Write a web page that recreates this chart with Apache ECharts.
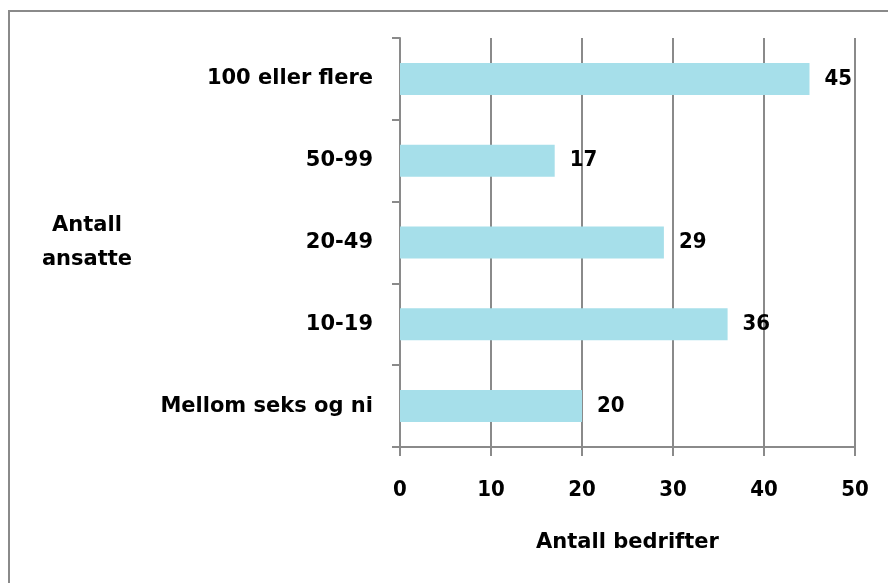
<!DOCTYPE html>
<html>
<head>
<meta charset="utf-8">
<script src="https://cdn.jsdelivr.net/npm/echarts@6/dist/echarts.min.js"></script>
<style>
  html, body { margin: 0; padding: 0; background: #fff; }
  #main { width: 888px; height: 583px; }
</style>
</head>
<body>
<div id="main"></div>
<script>
const categories = ['Mellom seks og ni', '10-19', '20-49', '50-99', '100 eller flere'];
const values = [20, 36, 29, 17, 45];
const xTicks = [0, 10, 20, 30, 40, 50];

const numFont = 'DejaVu Sans Condensed';
const textFont = 'DejaVu Sans';
const lineColor = '#8a8a8a';

var chart = echarts.init(document.getElementById('main'));
chart.setOption({
  animation: false,
  textStyle: { fontFamily: textFont },
  graphic: [
    {
      type: 'rect',
      shape: { x: 9, y: 11, width: 900, height: 600 },
      style: { fill: 'none', stroke: lineColor, lineWidth: 2 }
    }
  ],
  grid: { left: 400, right: 33, top: 38, bottom: 136 },
  xAxis: {
    type: 'value',
    min: xTicks[0],
    max: xTicks[xTicks.length - 1],
    interval: 10,
    name: 'Antall bedrifter',
    nameLocation: 'middle',
    nameGap: 85,
    nameTextStyle: { color: '#000', fontSize: 21, fontWeight: 'bold', fontFamily: textFont },
    axisLine: { show: true, lineStyle: { color: lineColor, width: 2 } },
    axisTick: { show: true, length: 9, lineStyle: { color: lineColor, width: 2 } },
    axisLabel: { color: '#000', fontSize: 22, fontWeight: 'bold', margin: 32, fontFamily: numFont },
    splitLine: { show: true, lineStyle: { color: lineColor, width: 2 } }
  },
  yAxis: {
    type: 'category',
    data: categories,
    name: 'Antall\nansatte',
    nameLocation: 'middle',
    nameRotate: 0,
    nameGap: 313,
    nameTextStyle: { color: '#000', fontSize: 21, fontWeight: 'bold', fontFamily: textFont, align: 'center', lineHeight: 34 },
    axisLine: { show: true, lineStyle: { color: lineColor, width: 2 } },
    axisTick: { show: true, length: 8, alignWithLabel: false, lineStyle: { color: lineColor, width: 2 } },
    axisLabel: { color: '#000', fontSize: 21, fontWeight: 'bold', margin: 27, fontFamily: textFont },
    splitLine: { show: false }
  },
  series: [
    {
      type: 'bar',
      data: values,
      barWidth: 32,
      itemStyle: { color: '#a6dfea' },
      label: {
        show: true,
        position: 'right',
        distance: 15,
        color: '#000',
        fontSize: 22,
        fontWeight: 'bold',
        fontFamily: numFont
      }
    }
  ]
});
</script>
</body>
</html>
